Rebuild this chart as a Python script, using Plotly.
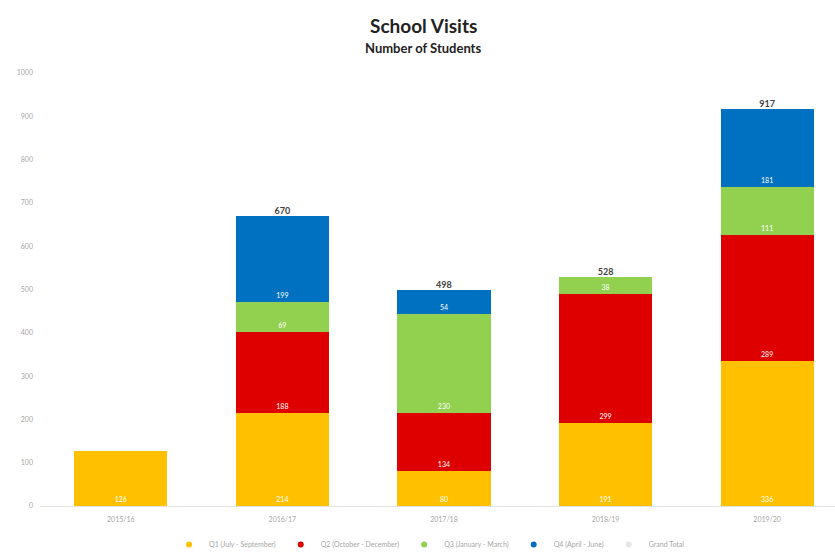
import plotly.graph_objects as go

# Academic years and student counts per quarter
years = ["2015/16", "2016/17", "2017/18", "2018/19", "2019/20"]
q1_jul_sep = [126, 214, 80, 191, 336]
q2_oct_dec = [None, 188, 134, 299, 289]
q3_jan_mar = [None, 69, 230, 38, 111]
q4_apr_jun = [None, 199, 54, None, 181]
series_names = ["Q1 (July - September)", "Q2 (October - December)",
                "Q3 (January - March)", "Q4 (April - June)"]
series_colors = ["#FFC000", "#DE0000", "#92D050", "#0070C0"]
total_name = "Grand Total"
y_ticks = [0, 100, 200, 300, 400, 500, 600, 700, 800, 900, 1000]

series = [q1_jul_sep, q2_oct_dec, q3_jan_mar, q4_apr_jun]
totals = [sum(v or 0 for v in col) for col in zip(*series)]
# the single-quarter year carries no total label
total_labels = [str(t) if sum(1 for v in col if v) > 1 else "" for t, col in zip(totals, zip(*series))]

FONT = "Lato"
fig = go.Figure()
for name, vals, col in zip(series_names, series, series_colors):
    fig.add_trace(go.Bar(
        x=years, y=vals, name=name, showlegend=False,
        marker=dict(color=col, line=dict(width=0)),
        text=[str(v) if v else "" for v in vals],
        textposition="inside", insidetextanchor="start",
        textfont=dict(color="white", size=7, family=FONT),
        textangle=0, cliponaxis=False,
    ))

fig.add_trace(go.Scatter(
    x=years, y=totals, mode="text", text=total_labels,
    textposition="top center",
    textfont=dict(color="#404040", size=9, family=FONT, weight="bold"),
    showlegend=False, hoverinfo="skip",
))

# legend keys drawn as small round markers
for name, col in zip(series_names + [total_name], series_colors + ["#E6E6E6"]):
    fig.add_trace(go.Scatter(
        x=[None], y=[None], mode="markers", name=name,
        marker=dict(color=col, symbol="circle", size=6),
    ))

fig.add_annotation(text="<b>School Visits</b>", xref="paper", yref="paper",
                   x=0.482, y=1 + (73 - 25) / 435, showarrow=False,
                   font=dict(size=19, color="#222222", family=FONT), yanchor="middle")
fig.add_annotation(text="<b>Number of Students</b>", xref="paper", yref="paper",
                   x=0.482, y=1 + (73 - 48) / 435, showarrow=False,
                   font=dict(size=13, color="#222222", family=FONT), yanchor="middle")

fig.update_layout(
    width=835, height=559,
    margin=dict(l=40, r=0, t=73, b=51),
    barmode="stack", bargap=0.424,
    plot_bgcolor="white", paper_bgcolor="white",
    font=dict(family=FONT, color="#A6A6A6", size=7),
    xaxis=dict(range=[-0.5, 4.42], showline=True, linecolor="#E4E4E4", linewidth=1,
               ticks="", tickfont=dict(size=7, color="#A6A6A6"), ticklabelstandoff=7,
               fixedrange=True),
    yaxis=dict(range=[0, 1000], tickvals=y_ticks, showgrid=False, zeroline=False,
               showline=False, tickfont=dict(size=7, color="#A6A6A6"), ticklabelstandoff=6),
    legend=dict(orientation="h", x=0.49, xanchor="center", y=-0.09, yanchor="middle",
                font=dict(size=7, color="#A6A6A6"), itemwidth=30, traceorder="normal"),
)

fig.write_html("out.html")
